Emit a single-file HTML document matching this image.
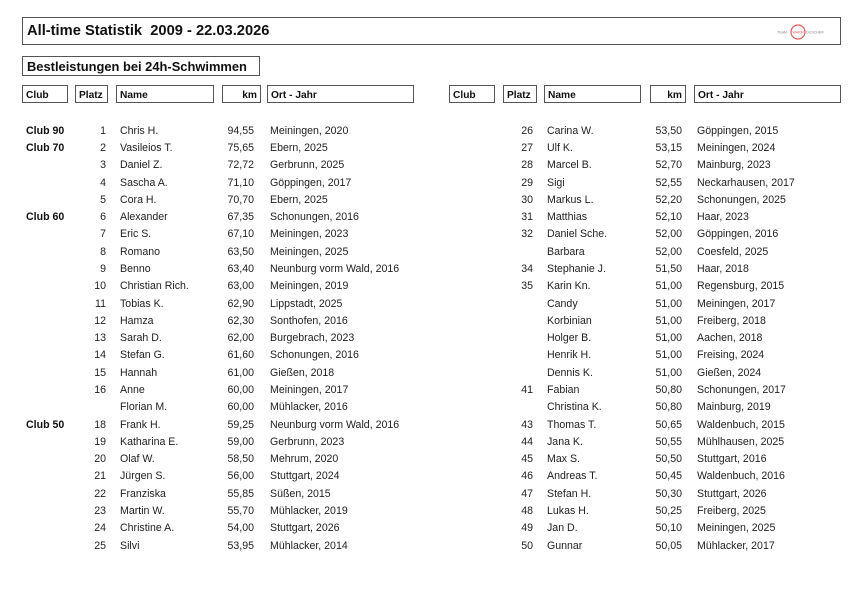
<!DOCTYPE html>
<html>
<head>
<meta charset="utf-8">
<style>
html,body{margin:0;padding:0;background:#fff;}
body{width:862px;height:599px;position:relative;overflow:hidden;font-family:"Liberation Sans",Arial,sans-serif;}
.box{position:absolute;border:1px solid #555;box-sizing:border-box;}
.title{left:22px;top:17px;width:819px;height:28px;}
.title span{position:absolute;left:4px;top:5px;font:bold 14.7px/17px "Liberation Sans",Arial,sans-serif;color:#111;white-space:nowrap;}
.sub{left:22px;top:56px;width:238px;height:20px;}
.sub span{position:absolute;left:4px;top:2px;font:bold 12.9px/15px "Liberation Sans",Arial,sans-serif;color:#111;white-space:nowrap;}
.h{position:absolute;top:85px;height:18px;border:1px solid #555;box-sizing:border-box;font:bold 10.2px/13px "Liberation Sans",Arial,sans-serif;color:#111;padding:3px 3px 0;white-space:nowrap;}
.h.rt{text-align:right;}
.r{position:absolute;left:0;width:862px;height:13px;font:10.6px/13px "Liberation Sans",Arial,sans-serif;color:#222;}
.r span{position:absolute;top:1px;white-space:nowrap;}
.c{left:26px;font-weight:bold;color:#111;}
.p{left:76px;width:30px;text-align:right;}
.n{left:120px;}
.k{left:204px;width:50px;text-align:right;}
.o{left:270px;}
.p2{left:503px;width:30px;text-align:right;}
.n2{left:547px;}
.k2{left:632px;width:50px;text-align:right;}
.o2{left:697px;}
</style>
</head>
<body>
<div class="box title"><span>All-time Statistik&nbsp; 2009 - 22.03.2026</span></div>
<svg style="position:absolute;left:772px;top:22px" width="68" height="20" viewBox="0 0 68 20">
  <circle cx="26" cy="10" r="7" fill="none" stroke="#e85a5a" stroke-width="1.2"/>
  <text x="5" y="11.5" font-family="Liberation Sans, Arial, sans-serif" font-size="3.6" fill="#888">TEAM</text>
  <text x="20.5" y="11.5" font-family="Liberation Sans, Arial, sans-serif" font-size="3.6" fill="#e85a5a">WARM</text>
  <text x="34" y="11.5" font-family="Liberation Sans, Arial, sans-serif" font-size="3.6" fill="#888">DUSCHER</text>
</svg>
<div class="box sub"><span>Bestleistungen bei 24h-Schwimmen</span></div>

<div class="h" style="left:22px;width:46px">Club</div>
<div class="h" style="left:75px;width:33px">Platz</div>
<div class="h" style="left:116px;width:98px">Name</div>
<div class="h rt" style="left:222px;width:39px">km</div>
<div class="h" style="left:267px;width:147px">Ort - Jahr</div>

<div class="h" style="left:449px;width:46px">Club</div>
<div class="h" style="left:503px;width:34px">Platz</div>
<div class="h" style="left:544px;width:97px">Name</div>
<div class="h rt" style="left:650px;width:36px">km</div>
<div class="h" style="left:694px;width:147px">Ort - Jahr</div>

<div class="r" style="top:123.6px"><span class="c">Club 90</span><span class="p">1</span><span class="n">Chris H.</span><span class="k">94,55</span><span class="o">Meiningen, 2020</span><span class="p2">26</span><span class="n2">Carina W.</span><span class="k2">53,50</span><span class="o2">Göppingen, 2015</span></div>
<div class="r" style="top:140.9px"><span class="c">Club 70</span><span class="p">2</span><span class="n">Vasileios T.</span><span class="k">75,65</span><span class="o">Ebern, 2025</span><span class="p2">27</span><span class="n2">Ulf K.</span><span class="k2">53,15</span><span class="o2">Meiningen, 2024</span></div>
<div class="r" style="top:158.2px"><span class="p">3</span><span class="n">Daniel Z.</span><span class="k">72,72</span><span class="o">Gerbrunn, 2025</span><span class="p2">28</span><span class="n2">Marcel B.</span><span class="k2">52,70</span><span class="o2">Mainburg, 2023</span></div>
<div class="r" style="top:175.5px"><span class="p">4</span><span class="n">Sascha A.</span><span class="k">71,10</span><span class="o">Göppingen, 2017</span><span class="p2">29</span><span class="n2">Sigi</span><span class="k2">52,55</span><span class="o2">Neckarhausen, 2017</span></div>
<div class="r" style="top:192.8px"><span class="p">5</span><span class="n">Cora H.</span><span class="k">70,70</span><span class="o">Ebern, 2025</span><span class="p2">30</span><span class="n2">Markus L.</span><span class="k2">52,20</span><span class="o2">Schonungen, 2025</span></div>
<div class="r" style="top:210.1px"><span class="c">Club 60</span><span class="p">6</span><span class="n">Alexander</span><span class="k">67,35</span><span class="o">Schonungen, 2016</span><span class="p2">31</span><span class="n2">Matthias</span><span class="k2">52,10</span><span class="o2">Haar, 2023</span></div>
<div class="r" style="top:227.3px"><span class="p">7</span><span class="n">Eric S.</span><span class="k">67,10</span><span class="o">Meiningen, 2023</span><span class="p2">32</span><span class="n2">Daniel Sche.</span><span class="k2">52,00</span><span class="o2">Göppingen, 2016</span></div>
<div class="r" style="top:244.6px"><span class="p">8</span><span class="n">Romano</span><span class="k">63,50</span><span class="o">Meiningen, 2025</span><span class="n2">Barbara</span><span class="k2">52,00</span><span class="o2">Coesfeld, 2025</span></div>
<div class="r" style="top:261.9px"><span class="p">9</span><span class="n">Benno</span><span class="k">63,40</span><span class="o">Neunburg vorm Wald, 2016</span><span class="p2">34</span><span class="n2">Stephanie J.</span><span class="k2">51,50</span><span class="o2">Haar, 2018</span></div>
<div class="r" style="top:279.2px"><span class="p">10</span><span class="n">Christian Rich.</span><span class="k">63,00</span><span class="o">Meiningen, 2019</span><span class="p2">35</span><span class="n2">Karin Kn.</span><span class="k2">51,00</span><span class="o2">Regensburg, 2015</span></div>
<div class="r" style="top:296.5px"><span class="p">11</span><span class="n">Tobias K.</span><span class="k">62,90</span><span class="o">Lippstadt, 2025</span><span class="n2">Candy</span><span class="k2">51,00</span><span class="o2">Meiningen, 2017</span></div>
<div class="r" style="top:313.8px"><span class="p">12</span><span class="n">Hamza</span><span class="k">62,30</span><span class="o">Sonthofen, 2016</span><span class="n2">Korbinian</span><span class="k2">51,00</span><span class="o2">Freiberg, 2018</span></div>
<div class="r" style="top:331.1px"><span class="p">13</span><span class="n">Sarah D.</span><span class="k">62,00</span><span class="o">Burgebrach, 2023</span><span class="n2">Holger B.</span><span class="k2">51,00</span><span class="o2">Aachen, 2018</span></div>
<div class="r" style="top:348.4px"><span class="p">14</span><span class="n">Stefan G.</span><span class="k">61,60</span><span class="o">Schonungen, 2016</span><span class="n2">Henrik H.</span><span class="k2">51,00</span><span class="o2">Freising, 2024</span></div>
<div class="r" style="top:365.7px"><span class="p">15</span><span class="n">Hannah</span><span class="k">61,00</span><span class="o">Gießen, 2018</span><span class="n2">Dennis K.</span><span class="k2">51,00</span><span class="o2">Gießen, 2024</span></div>
<div class="r" style="top:383.0px"><span class="p">16</span><span class="n">Anne</span><span class="k">60,00</span><span class="o">Meiningen, 2017</span><span class="p2">41</span><span class="n2">Fabian</span><span class="k2">50,80</span><span class="o2">Schonungen, 2017</span></div>
<div class="r" style="top:400.3px"><span class="n">Florian M.</span><span class="k">60,00</span><span class="o">Mühlacker, 2016</span><span class="n2">Christina K.</span><span class="k2">50,80</span><span class="o2">Mainburg, 2019</span></div>
<div class="r" style="top:417.5px"><span class="c">Club 50</span><span class="p">18</span><span class="n">Frank H.</span><span class="k">59,25</span><span class="o">Neunburg vorm Wald, 2016</span><span class="p2">43</span><span class="n2">Thomas T.</span><span class="k2">50,65</span><span class="o2">Waldenbuch, 2015</span></div>
<div class="r" style="top:434.8px"><span class="p">19</span><span class="n">Katharina E.</span><span class="k">59,00</span><span class="o">Gerbrunn, 2023</span><span class="p2">44</span><span class="n2">Jana K.</span><span class="k2">50,55</span><span class="o2">Mühlhausen, 2025</span></div>
<div class="r" style="top:452.1px"><span class="p">20</span><span class="n">Olaf W.</span><span class="k">58,50</span><span class="o">Mehrum, 2020</span><span class="p2">45</span><span class="n2">Max S.</span><span class="k2">50,50</span><span class="o2">Stuttgart, 2016</span></div>
<div class="r" style="top:469.4px"><span class="p">21</span><span class="n">Jürgen S.</span><span class="k">56,00</span><span class="o">Stuttgart, 2024</span><span class="p2">46</span><span class="n2">Andreas T.</span><span class="k2">50,45</span><span class="o2">Waldenbuch, 2016</span></div>
<div class="r" style="top:486.7px"><span class="p">22</span><span class="n">Franziska</span><span class="k">55,85</span><span class="o">Süßen, 2015</span><span class="p2">47</span><span class="n2">Stefan H.</span><span class="k2">50,30</span><span class="o2">Stuttgart, 2026</span></div>
<div class="r" style="top:504.0px"><span class="p">23</span><span class="n">Martin W.</span><span class="k">55,70</span><span class="o">Mühlacker, 2019</span><span class="p2">48</span><span class="n2">Lukas H.</span><span class="k2">50,25</span><span class="o2">Freiberg, 2025</span></div>
<div class="r" style="top:521.3px"><span class="p">24</span><span class="n">Christine A.</span><span class="k">54,00</span><span class="o">Stuttgart, 2026</span><span class="p2">49</span><span class="n2">Jan D.</span><span class="k2">50,10</span><span class="o2">Meiningen, 2025</span></div>
<div class="r" style="top:538.6px"><span class="p">25</span><span class="n">Silvi</span><span class="k">53,95</span><span class="o">Mühlacker, 2014</span><span class="p2">50</span><span class="n2">Gunnar</span><span class="k2">50,05</span><span class="o2">Mühlacker, 2017</span></div>
</body>
</html>
